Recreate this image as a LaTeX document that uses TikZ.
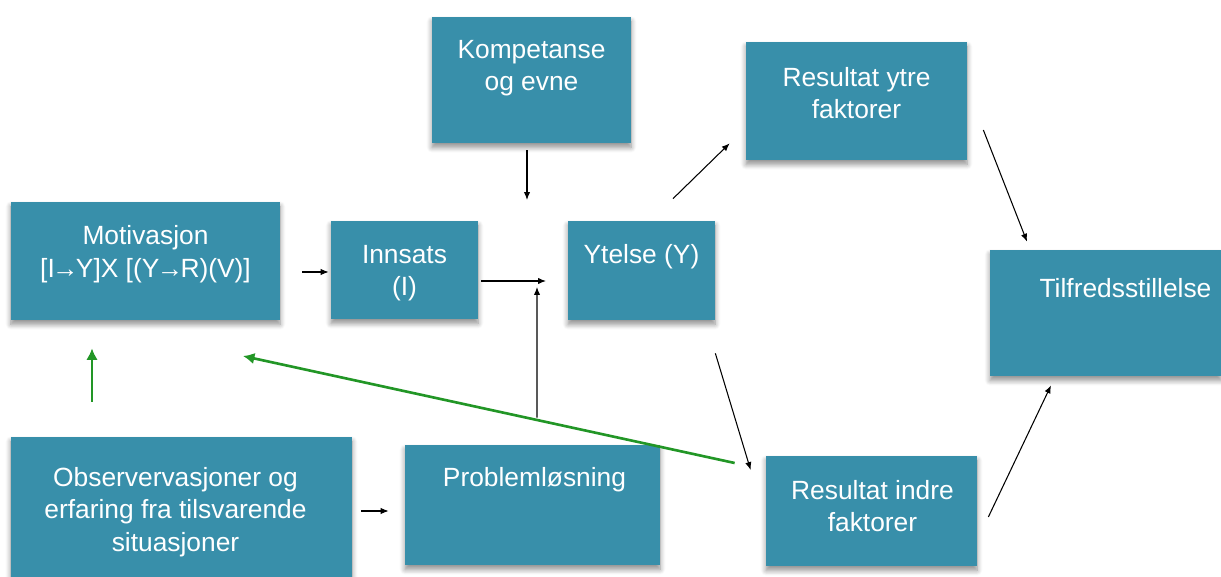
\documentclass[tikz,border=0pt]{standalone}
\usepackage{fontspec}
\setmainfont{Liberation Sans}
\usetikzlibrary{arrows.meta, shadows.blur}

\definecolor{boksblaa}{RGB}{56,143,170}
\definecolor{gronn}{RGB}{34,150,38}
\newcommand{\tilpil}{\kern-1.5pt→\kern-1.5pt}

\begin{document}
\begin{tikzpicture}[x=0.02cm, y=-0.02cm,
  boks/.style={rectangle, fill=boksblaa, inner sep=0pt,
    blur shadow={shadow xshift=0pt, shadow yshift=-2.5pt, shadow blur steps=6,
      shadow blur radius=3pt, shadow opacity=45}},
  tekst/.style={text=white, align=center, font=\fontsize{15}{18.5}\selectfont},
  pil/.style={-{Latex[length=4.5pt, width=3.6pt]}, line width=0.6pt, black},
  gpil/.style={-{Latex[length=6.5pt, width=6.5pt]}, line width=1.5pt, gronn}]
\useasboundingbox (0,0) rectangle (1221,577);

% bokser
\node[boks, minimum width=199*0.02cm, minimum height=126*0.02cm] (komp) at (531.5,80) {};
\node[boks, minimum width=221*0.02cm, minimum height=118*0.02cm] (ytre) at (856.5,101) {};
\node[boks, minimum width=269*0.02cm, minimum height=118*0.02cm] (motiv) at (145.5,261) {};
\node[boks, minimum width=147*0.02cm, minimum height=98*0.02cm] (innsats) at (404.5,270) {};
\node[boks, minimum width=147*0.02cm, minimum height=99*0.02cm] (ytelse) at (641.5,270.5) {};
\node[boks, minimum width=231*0.02cm, minimum height=126*0.02cm] (tilf) at (1105.5,313) {};
\node[boks, minimum width=341*0.02cm, minimum height=140*0.02cm] (obs) at (181.5,507) {};
\node[boks, minimum width=255*0.02cm, minimum height=120*0.02cm] (prob) at (532.5,505) {};
\node[boks, minimum width=211*0.02cm, minimum height=110*0.02cm] (indre) at (871.5,511) {};

% tekst i boksene
\node[tekst] (komp-t) at ([shift={(0,-12)}]komp.center) {Kompetanse\\og evne};
\node[tekst] (ytre-t) at ([shift={(0,-8)}]ytre.center) {Resultat ytre\\faktorer};
\node[tekst] (motiv-t) at ([shift={(0,-7)}]motiv.center) {Motivasjon\\{}[I\tilpil Y]X [(Y\tilpil R)(V)]};
\node[tekst] (innsats-t) at ([shift={(0,3)}]innsats.center) {Innsats\\(I)};
\node[tekst] (ytelse-t) at ([shift={(0,-14)}]ytelse.center) {Ytelse (Y)};
\node[tekst] (tilf-t) at ([shift={(20,-25)}]tilf.center) {Tilfredsstillelse};
\node[tekst] (obs-t) at ([shift={(-6,5)}]obs.center) {Observervasjoner og\\erfaring fra tilsvarende\\situasjoner};
\node[tekst] (prob-t) at ([shift={(2,-25)}]prob.center) {Problemløsning};
\node[tekst] (indre-t) at ([shift={(1,-5)}]indre.center) {Resultat indre\\faktorer};

% frie endepunkter
\coordinate (kryss) at (546,281);
\coordinate (kompslutt) at (527,200);
\coordinate (probslutt) at (537,287);
\coordinate (gslutt) at (243,356);

% piler
\draw[pil] ([shift={(-4.5,7)}]komp.south) -- (kompslutt);
\draw[pil] ([shift={(22,11)}]motiv.east) -- ([shift={(-2,2)}]innsats.west);
\draw[pil] ([shift={(3,11)}]innsats.east) -- (kryss);
\draw[pil] ([shift={(4.5,-27)}]prob.north) -- (probslutt);
\draw[pil] ([shift={(31.5,-22)}]ytelse.north) -- ([shift={(-16,-17)}]ytre.south west);
\draw[pil] ([shift={(16,29)}]ytre.east) -- ([shift={(-78.5,-8)}]tilf.north);
\draw[pil] ([shift={(0,33)}]ytelse.south east) -- ([shift={(-15,-41)}]indre.west);
\draw[pil] ([shift={(11,6)}]indre.east) -- ([shift={(-54.5,9)}]tilf.south);
\draw[pil] ([shift={(9,4)}]obs.east) -- ([shift={(-16,6)}]prob.west);
\draw[gpil] ([shift={(-89.5,-35)}]obs.north) -- ([shift={(-53.5,28)}]motiv.south);
\draw[gpil] ([shift={(-31,-48)}]indre.west) -- (gslutt);
\end{tikzpicture}
\end{document}
